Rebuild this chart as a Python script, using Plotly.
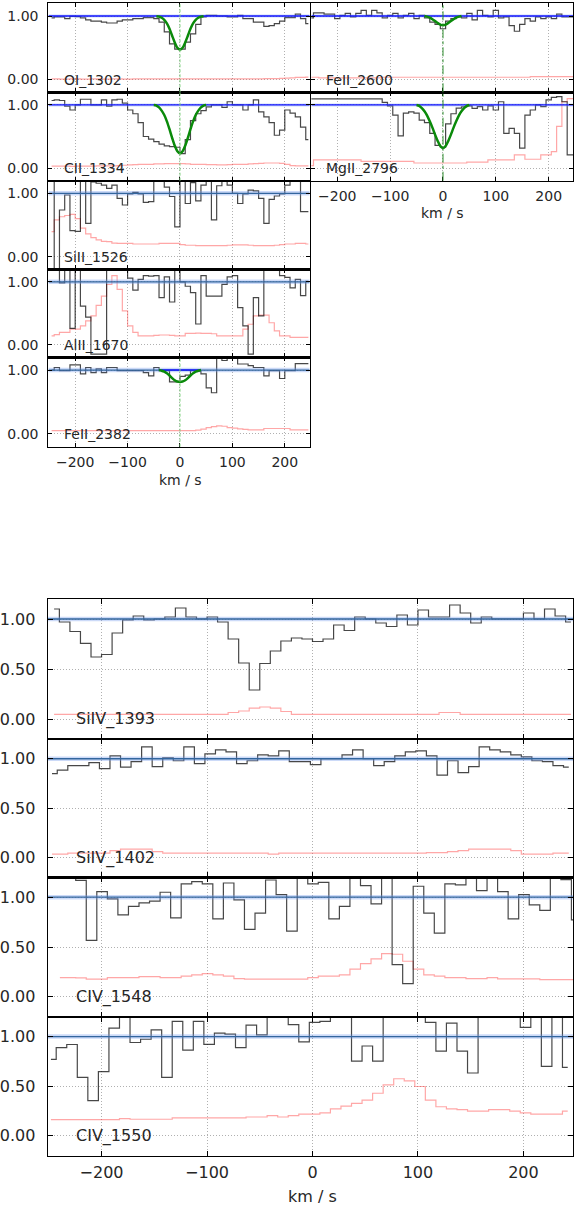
import numpy as np
import plotly.graph_objects as go

W, H = 574, 1209
BIN_KMS = 10.0

# ------------------------------------------------------------------ data
# first bin centre (km/s) of each spectrum; bins are BIN_KMS wide
V0_OI_1302 = -245.0
V0_CII_1334 = -245.0
V0_SiII_1526 = -245.0
V0_AlII_1670 = -245.0
V0_FeII_2382 = -245.0
V0_FeII_2600 = -250.0
V0_MgII_2796 = -250.0
V0_SiIV_1393 = -245.0
V0_SiIV_1402 = -247.0
V0_CIV_1548 = -239.5
V0_CIV_1550 = -248.0

OI_1302_FLUX = [0.97, 0.985, 0.985, 0.96, 0.995, 0.99, 0.97, 0.94, 0.92, 0.92,
                0.905, 0.89, 0.89, 0.92, 0.94, 0.94, 0.96, 0.96, 0.975, 0.975,
                0.96, 0.905, 0.75, 0.563, 0.48, 0.48, 0.59, 0.72, 0.87, 0.985,
                1.01, 1.01, 1.0, 1.0, 0.985, 0.985, 1.01, 0.96, 0.96, 0.905,
                0.905, 0.837, 0.85, 0.88, 0.92, 0.975, 0.975, 1.03, 0.96, 0.88]
OI_1302_ERR = [0.010, 0.010, 0.008, 0.008, 0.010, 0.010, 0.008, 0.008, 0.010, 0.010,
               0.008, 0.008, 0.010, 0.010, 0.008, 0.008, 0.010, 0.010, 0.010, 0.010,
               0.012, 0.012, 0.012, 0.012, 0.012, 0.012, 0.012, 0.012, 0.010, 0.010,
               0.010, 0.010, 0.010, 0.010, 0.010, 0.012, 0.012, 0.012, 0.012, 0.012,
               0.012, 0.015, 0.015, 0.015, 0.018, 0.022, 0.028, 0.035, 0.035, 0.040]
OI_1302_MODEL_V = [-45, -40, -35, -30, -25, -20, -15, -10, -5, 0, 5, 10, 15, 20, 25, 30, 35, 40, 45]
OI_1302_MODEL = [0.996, 0.99, 0.973, 0.94, 0.885, 0.80, 0.69, 0.585, 0.50, 0.47,
                 0.50, 0.585, 0.69, 0.80, 0.885, 0.94, 0.973, 0.99, 0.996]

CII_1334_FLUX = [1.07, 1.08, 1.07, 0.98, 0.92, 1.0, 1.09, 1.09, 1.0, 1.0,
                 1.08, 0.98, 1.08, 1.09, 1.03, 0.92, 0.86, 0.72, 0.50, 0.46,
                 0.42, 0.38, 0.35, 0.34, 0.33, 0.23, 0.45, 0.75, 0.86, 0.91,
                 0.97, 1.0, 1.0, 0.96, 1.05, 1.0, 1.0, 0.92, 1.0, 1.08,
                 0.89, 0.81, 0.72, 0.52, 0.60, 0.92, 0.87, 0.81, 0.65, 0.45]
CII_1334_ERR = [0.03, 0.03, 0.032, 0.03, 0.028, 0.03, 0.03, 0.03, 0.032, 0.035,
                0.035, 0.035, 0.035, 0.04, 0.045, 0.05, 0.055, 0.06, 0.06, 0.06,
                0.065, 0.065, 0.07, 0.07, 0.07, 0.07, 0.065, 0.06, 0.06, 0.06,
                0.055, 0.055, 0.05, 0.05, 0.055, 0.06, 0.06, 0.06, 0.065, 0.07,
                0.075, 0.08, 0.08, 0.08, 0.075, 0.06, 0.04, 0.035, 0.035, 0.035]
CII_1334_MODEL_V = [-50, -45, -40, -35, -30, -25, -20, -15, -10, -5, 0,
                    5, 10, 15, 20, 25, 30, 35, 40, 45, 50]
CII_1334_MODEL = [1.0, 0.99, 0.96, 0.91, 0.84, 0.74, 0.615, 0.48, 0.355, 0.265, 0.23,
                  0.265, 0.355, 0.48, 0.615, 0.74, 0.84, 0.91, 0.96, 0.99, 1.0]

SiII_1526_FLUX = [1.3, -0.3, 0.737, 0.974, 0.41, 0.40, 1.3, 0.526, 1.18, 1.16,
                  1.13, 1.08, 1.13, 0.92, 0.816, 0.99, 1.016, 0.99, 0.858, 0.868,
                  1.3, 1.3, 1.1, 0.95, 0.47, 1.3, 0.84, 1.17, 0.88, 1.13,
                  1.3, 0.58, 1.12, 1.3, 1.13, 1.0, 0.84, 0.99, 1.05, 1.04,
                  0.92, 0.526, 0.905, 0.958, 0.99, 1.13, 1.3, 1.3, 0.71, 0.71]
SiII_1526_ERR = [0.395, 0.58, 0.63, 0.65, 0.668, 0.60, 0.45, 0.36, 0.30, 0.265,
                 0.24, 0.237, 0.215, 0.21, 0.21, 0.21, 0.2, 0.2, 0.2, 0.2,
                 0.2, 0.21, 0.21, 0.21, 0.21, 0.19, 0.18, 0.18, 0.175, 0.175,
                 0.175, 0.175, 0.175, 0.175, 0.18, 0.185, 0.185, 0.185, 0.18, 0.175,
                 0.175, 0.175, 0.175, 0.18, 0.19, 0.2, 0.2, 0.21, 0.21, 0.2]

AlII_1670_FLUX = [1.3, 1.3, 0.985, 1.3, 0.26, 1.3, 0.615, 0.44, -0.15, -0.15,
                  -0.15, 1.3, 1.3, 1.3, 1.3, 1.06, 0.87, 1.04, 1.1, 1.09,
                  1.1, 0.75, 1.08, 0.68, 1.3, 1.0, 0.93, 0.83, 0.33, 1.1,
                  0.774, 0.774, 0.774, 0.96, 1.08, 1.1, 0.59, 0.3, -0.15, 0.75,
                  0.46, 1.3, 1.3, 1.3, 1.1, 1.07, 0.905, 1.04, 0.78, 1.01]
AlII_1670_ERR = [0.14, 0.16, 0.195, 0.195, 0.247, 0.247, 0.30, 0.38, 0.458, 0.626,
                 0.774, 0.958, 1.10, 0.88, 0.537, 0.30, 0.195, 0.142, 0.142, 0.142,
                 0.15, 0.155, 0.155, 0.15, 0.142, 0.142, 0.18, 0.18, 0.185, 0.18,
                 0.18, 0.175, 0.142, 0.142, 0.142, 0.142, 0.142, 0.247, 0.326, 0.458,
                 0.47, 0.47, 0.35, 0.22, 0.142, 0.142, 0.116, 0.116, 0.116, 0.116]

FeII_2382_FLUX = [1.0, 1.04, 0.99, 0.99, 1.08, 1.08, 0.94, 1.04, 0.96, 1.02,
                  0.96, 1.04, 1.04, 0.99, 0.99, 0.99, 0.99, 0.99, 0.96, 0.91,
                  1.04, 0.99, 0.99, 0.815, 0.815, 0.9, 0.92, 0.99, 0.98, 0.94,
                  0.72, 0.645, 1.2, 1.15, 1.2, 1.25, 1.095, 1.095, 1.07, 1.04,
                  1.04, 0.91, 0.99, 0.99, 0.868, 0.99, 0.99, 1.1, 1.1, 1.1]
FeII_2382_ERR = [0.053, 0.053, 0.053, 0.053, 0.053, 0.053, 0.053, 0.053, 0.053, 0.053,
                 0.053, 0.053, 0.053, 0.053, 0.053, 0.053, 0.053, 0.053, 0.053, 0.053,
                 0.053, 0.053, 0.053, 0.053, 0.053, 0.053, 0.053, 0.053, 0.06, 0.075,
                 0.10, 0.115, 0.127, 0.12, 0.10, 0.09, 0.08, 0.07, 0.063, 0.063,
                 0.063, 0.085, 0.085, 0.085, 0.085, 0.085, 0.063, 0.063, 0.063, 0.063]
FeII_2382_MODEL_V = [-40, -35, -30, -25, -20, -15, -10, -5, 0, 5, 10, 15, 20, 25, 30, 35, 40]
FeII_2382_MODEL = [1.0, 0.99, 0.975, 0.95, 0.915, 0.875, 0.84, 0.82, 0.815,
                   0.82, 0.84, 0.875, 0.915, 0.95, 0.975, 0.99, 1.0]

FeII_2600_FLUX = [0.97, 1.05, 1.05, 1.03, 1.03, 0.96, 1.01, 1.04, 0.985, 1.04,
                  1.09, 1.01, 1.09, 1.05, 0.97, 1.01, 1.04, 0.97, 1.01, 1.04,
                  0.96, 1.01, 0.97, 0.905, 0.87, 0.80, 0.92, 0.96, 0.985, 0.97,
                  1.04, 0.94, 1.09, 1.01, 0.985, 1.09, 0.97, 0.985, 0.85, 0.76,
                  0.87, 0.96, 0.92, 0.985, 0.96, 0.985, 0.96, 1.03, 0.985, 0.985,
                  0.985]
FeII_2600_ERR = [0.037, 0.037, 0.026, 0.026, 0.026, 0.026, 0.026, 0.026, 0.026, 0.026,
                 0.026, 0.026, 0.026, 0.026, 0.037, 0.037, 0.037, 0.037, 0.037, 0.037,
                 0.037, 0.037, 0.037, 0.037, 0.037, 0.037, 0.037, 0.037, 0.037, 0.037,
                 0.037, 0.037, 0.037, 0.037, 0.037, 0.037, 0.037, 0.037, 0.037, 0.037,
                 0.037, 0.037, 0.047, 0.047, 0.047, 0.047, 0.047, 0.047, 0.047, 0.047,
                 0.047]
FeII_2600_MODEL_V = [-35, -30, -25, -20, -15, -10, -5, 0, 5, 10, 15, 20, 25, 30, 35]
FeII_2600_MODEL = [1.0, 0.99, 0.975, 0.95, 0.92, 0.89, 0.865, 0.855,
                   0.865, 0.89, 0.92, 0.95, 0.975, 0.99, 1.0]

MgII_2796_FLUX = [1.095, 1.095, 1.095, 1.095, 1.095, 1.095, 1.095, 1.095, 1.095, 1.095,
                  1.095, 1.095, 1.095, 1.095, 1.04, 0.985, 0.84, 0.51, 0.87, 0.89,
                  0.87, 0.76, 0.72, 0.55, 0.36, 0.33, 0.70, 0.86, 0.95, 0.97,
                  0.985, 0.947, 0.974, 0.92, 0.985, 0.92, 1.05, 0.55, 0.63, 0.55,
                  0.316, 0.84, 0.92, 1.0, 0.974, 1.08, 1.12, 1.13, 1.05, 0.21,
                  0.21]
MgII_2796_ERR = [0.04, 0.13, 0.13, 0.13, 0.13, 0.13, 0.13, 0.13, 0.13, 0.13,
                 0.105, 0.105, 0.105, 0.105, 0.105, 0.105, 0.105, 0.105, 0.105, 0.105,
                 0.08, 0.08, 0.08, 0.08, 0.08, 0.08, 0.08, 0.08, 0.08, 0.08,
                 0.095, 0.095, 0.095, 0.095, 0.13, 0.13, 0.13, 0.13, 0.13, 0.21,
                 0.21, 0.14, 0.14, 0.14, 0.21, 0.21, 0.26, 0.66, 1.05, 1.1,
                 1.1]
MgII_2796_MODEL_V = [-50, -45, -40, -35, -30, -25, -20, -15, -10, -5, 0,
                     5, 10, 15, 20, 25, 30, 35, 40, 45, 50]
MgII_2796_MODEL = [1.0, 0.985, 0.95, 0.90, 0.83, 0.74, 0.64, 0.53, 0.43, 0.35, 0.316,
                   0.35, 0.43, 0.53, 0.64, 0.74, 0.83, 0.90, 0.95, 0.985, 1.0]

SiIV_1393_FLUX = [1.10, 0.97, 0.875, 0.757, 0.62, 0.645, 0.86, 0.99, 1.03, 0.99,
                  1.00, 1.02, 1.11, 1.02, 1.00, 1.02, 0.97, 0.80, 0.56, 0.29,
                  0.555, 0.68, 0.78, 0.81, 0.80, 0.775, 0.80, 0.94, 0.885, 1.02,
                  1.00, 0.96, 0.925, 1.04, 0.94, 1.09, 1.02, 1.02, 1.14, 1.06,
                  0.96, 1.02, 1.00, 1.00, 1.00, 1.06, 1.00, 1.10, 1.03, 0.97]
SiIV_1393_ERR = [0.047, 0.047, 0.047, 0.047, 0.047, 0.047, 0.047, 0.047, 0.047, 0.047,
                 0.047, 0.047, 0.047, 0.047, 0.047, 0.047, 0.047, 0.065, 0.08, 0.108,
                 0.12, 0.108, 0.075, 0.047, 0.047, 0.047, 0.047, 0.047, 0.047, 0.047,
                 0.047, 0.047, 0.047, 0.047, 0.047, 0.047, 0.047, 0.065, 0.065, 0.047,
                 0.047, 0.047, 0.047, 0.047, 0.047, 0.047, 0.047, 0.047, 0.047, 0.047]

SiIV_1402_FLUX = [0.85, 0.885, 0.93, 0.93, 0.96, 0.90, 1.03, 0.915, 0.97, 1.12,
                  0.92, 1.01, 0.98, 1.12, 0.95, 1.05, 1.09, 1.07, 0.95, 0.98,
                  1.04, 1.03, 1.08, 0.97, 0.97, 0.94, 1.00, 1.00, 1.04, 1.09,
                  1.00, 0.93, 0.97, 1.03, 1.07, 1.08, 1.03, 0.835, 0.98, 0.86,
                  0.92, 1.12, 1.09, 1.07, 1.04, 1.02, 0.98, 0.97, 0.93, 0.915]
SiIV_1402_ERR = [0.035, 0.035, 0.045, 0.045, 0.045, 0.045, 0.07, 0.085, 0.085, 0.085,
                 0.06, 0.045, 0.045, 0.045, 0.045, 0.045, 0.045, 0.045, 0.045, 0.045,
                 0.045, 0.035, 0.045, 0.045, 0.045, 0.045, 0.045, 0.045, 0.045, 0.045,
                 0.045, 0.045, 0.045, 0.045, 0.045, 0.045, 0.05, 0.05, 0.06, 0.07,
                 0.085, 0.085, 0.085, 0.085, 0.07, 0.035, 0.035, 0.035, 0.045, 0.045]

CIV_1548_FLUX = [1.3, 1.3, 1.17, 0.567, 1.057, 0.983, 0.823, 0.907, 0.943, 0.96,
                 1.05, 0.793, 1.133, 1.157, 1.133, 0.783, 1.143, 0.973, 0.677, 0.84,
                 1.173, 1.027, 0.66, 1.3, 1.133, 1.15, 0.783, 0.907, 1.3, 1.117,
                 0.933, 1.3, 0.323, 0.133, 1.11, 0.84, 0.64, 1.133, 1.123, 1.3,
                 1.067, 1.3, 1.057, 0.783, 1.027, 0.923, 0.867, 1.3, 1.177, 0.773]
CIV_1548_ERR = [0.193, 0.193, 0.19, 0.177, 0.177, 0.193, 0.193, 0.193, 0.203, 0.203,
                0.193, 0.193, 0.207, 0.22, 0.233, 0.22, 0.207, 0.183, 0.177, 0.177,
                0.177, 0.177, 0.177, 0.177, 0.193, 0.207, 0.207, 0.22, 0.277, 0.333,
                0.38, 0.433, 0.427, 0.357, 0.277, 0.22, 0.207, 0.193, 0.193, 0.183,
                0.183, 0.193, 0.18, 0.18, 0.18, 0.18, 0.173, 0.173, 0.173, 0.173]

CIV_1550_FLUX = [0.77, 0.888, 0.92, 0.588, 0.354, 0.646, 1.085, 1.3, 0.94, 0.973,
                 1.068, 0.588, 1.153, 0.864, 1.153, 0.922, 1.034, 1.024, 0.888, 1.116,
                 1.017, 1.3, 1.3, 1.12, 0.946, 1.143, 1.153, 1.3, 1.3, 0.752,
                 0.905, 0.752, 1.3, 1.3, 1.3, 1.3, 1.143, 0.854, 1.136, 0.854,
                 0.633, 1.3, 1.198, 1.198, 1.3, 1.092, 1.3, 0.70, 1.3, 0.69]
CIV_1550_ERR = [0.163, 0.163, 0.163, 0.163, 0.163, 0.163, 0.163, 0.173, 0.167, 0.167,
                0.167, 0.167, 0.18, 0.18, 0.18, 0.18, 0.18, 0.18, 0.18, 0.19,
                0.19, 0.204, 0.19, 0.204, 0.218, 0.218, 0.231, 0.272, 0.30, 0.327,
                0.36, 0.429, 0.514, 0.575, 0.554, 0.497, 0.36, 0.293, 0.272, 0.265,
                0.248, 0.248, 0.265, 0.265, 0.248, 0.231, 0.218, 0.218, 0.218, 0.248]

X_TICKS = [-200, -100, 0, 100, 200]
X_TICK_TEXT = ["\u2212200", "\u2212100", "0", "100", "200"]
Y_TICKS_SMALL = [0.0, 1.0]
Y_TICK_TEXT_SMALL = ["0.00", "1.00"]
Y_TICKS_BIG = [0.0, 0.5, 1.0]
Y_TICK_TEXT_BIG = ["0.00", "0.50", "1.00"]
X_LABEL = "km / s"

# ------------------------------------------------------------------ layout (pixels)
COLS = {
    "L": dict(x0=46.7, x1=309.3, rng=[-251.0, 247.5], font=14),
    "R": dict(x0=311.0, x1=574.0, rng=[-249.0, 246.0], font=14),
    "B": dict(x0=46.0, x1=574.0, rng=[-251.0, 247.0], font=16),
}

PANELS = [
    dict(name="OI_1302", v0=V0_OI_1302, flux=OI_1302_FLUX, err=OI_1302_ERR,
         mv=OI_1302_MODEL_V, mf=OI_1302_MODEL, col="L", top=3.3, bot=92.3,
         xlab=False, cont="bright"),
    dict(name="CII_1334", v0=V0_CII_1334, flux=CII_1334_FLUX, err=CII_1334_ERR,
         mv=CII_1334_MODEL_V, mf=CII_1334_MODEL, col="L", top=92.3, bot=180.7,
         xlab=False, cont="bright"),
    dict(name="SiII_1526", v0=V0_SiII_1526, flux=SiII_1526_FLUX, err=SiII_1526_ERR,
         mv=None, mf=None, col="L", top=180.7, bot=269.3, xlab=False, cont="steel"),
    dict(name="AlII_1670", v0=V0_AlII_1670, flux=AlII_1670_FLUX, err=AlII_1670_ERR,
         mv=None, mf=None, col="L", top=269.3, bot=357.3, xlab=False, cont="steel"),
    dict(name="FeII_2382", v0=V0_FeII_2382, flux=FeII_2382_FLUX, err=FeII_2382_ERR,
         mv=FeII_2382_MODEL_V, mf=FeII_2382_MODEL, col="L", top=357.3, bot=446.7,
         xlab=True, cont="steel"),
    dict(name="FeII_2600", v0=V0_FeII_2600, flux=FeII_2600_FLUX, err=FeII_2600_ERR,
         mv=FeII_2600_MODEL_V, mf=FeII_2600_MODEL, col="R", top=3.3, bot=92.3,
         xlab=False, cont="bright"),
    dict(name="MgII_2796", v0=V0_MgII_2796, flux=MgII_2796_FLUX, err=MgII_2796_ERR,
         mv=MgII_2796_MODEL_V, mf=MgII_2796_MODEL, col="R", top=92.3, bot=180.7,
         xlab=True, cont="bright"),
    dict(name="SiIV_1393", v0=V0_SiIV_1393, flux=SiIV_1393_FLUX, err=SiIV_1393_ERR,
         mv=None, mf=None, col="B", top=599.0, bot=739.0, xlab=False, cont="steel"),
    dict(name="SiIV_1402", v0=V0_SiIV_1402, flux=SiIV_1402_FLUX, err=SiIV_1402_ERR,
         mv=None, mf=None, col="B", top=739.0, bot=877.3, xlab=False, cont="steel"),
    dict(name="CIV_1548", v0=V0_CIV_1548, flux=CIV_1548_FLUX, err=CIV_1548_ERR,
         mv=None, mf=None, col="B", top=877.3, bot=1016.7, xlab=False, cont="steel"),
    dict(name="CIV_1550", v0=V0_CIV_1550, flux=CIV_1550_FLUX, err=CIV_1550_ERR,
         mv=None, mf=None, col="B", top=1016.7, bot=1155.7, xlab=True, cont="steel"),
]

Y_RANGE = [-0.2, 1.2]
FONT = "DejaVu Sans, Liberation Sans, Arial, sans-serif"
TXT = "#262626"
FLUX_COLOR = "rgba(0,0,0,0.72)"
ERR_COLOR = "rgba(255,60,60,0.45)"
MODEL_COLOR = "#0a8a0a"
BRIGHT_BLUE = "#1414ff"
STEEL_BLUE = "#33669e"
HALO = "rgba(110,150,235,0.35)"
GRID = dict(showgrid=True, gridcolor="#b0b0b0", griddash="1px,2px", gridwidth=1)


def centres(v0, n):
    return v0 + BIN_KMS * np.arange(n)


fig = go.Figure()
layout = dict(
    width=W, height=H, margin=dict(l=0, r=0, t=0, b=0),
    paper_bgcolor="white", plot_bgcolor="white", showlegend=False,
    font=dict(family=FONT, color=TXT), hovermode=False,
)
annotations = []
shapes = []

for i, p in enumerate(PANELS, start=1):
    c = COLS[p["col"]]
    xa = "x" if i == 1 else f"x{i}"
    ya = "y" if i == 1 else f"y{i}"
    xk = "xaxis" if i == 1 else f"xaxis{i}"
    yk = "yaxis" if i == 1 else f"yaxis{i}"
    big = p["col"] == "B"
    fs = c["font"]

    layout[xk] = dict(
        domain=[c["x0"] / W, c["x1"] / W], range=c["rng"], anchor=ya,
        tickmode="array", tickvals=X_TICKS, ticktext=X_TICK_TEXT,
        showticklabels=p["xlab"], ticks="inside", ticklen=5 if big else 4,
        tickwidth=1, tickcolor="black", mirror="ticks", showline=True,
        linecolor="black", linewidth=1.2, zeroline=False,
        tickfont=dict(size=fs, family=FONT, color=TXT), ticklabelstandoff=2,
        **GRID,
    )
    layout[yk] = dict(
        domain=[1 - p["bot"] / H, 1 - p["top"] / H], range=Y_RANGE, anchor=xa,
        tickmode="array",
        tickvals=Y_TICKS_BIG if big else Y_TICKS_SMALL,
        ticktext=Y_TICK_TEXT_BIG if big else Y_TICK_TEXT_SMALL,
        showticklabels=p["col"] != "R", ticks="inside", ticklen=5 if big else 4,
        tickwidth=1, tickcolor="black", mirror="ticks", showline=True,
        linecolor="black", linewidth=1.2, zeroline=False,
        tickfont=dict(size=fs, family=FONT, color=TXT),
        ticklabelstandoff=8 if big else 6,
        **GRID,
    )

    ve = centres(p["v0"], len(p["err"]))
    vf = centres(p["v0"], len(p["flux"]))
    # error spectrum
    fig.add_trace(go.Scatter(x=ve, y=p["err"], mode="lines", xaxis=xa, yaxis=ya,
                             line=dict(color=ERR_COLOR, width=1.2, shape="hvh"),
                             hoverinfo="skip"))
    # flux spectrum
    fig.add_trace(go.Scatter(x=vf, y=p["flux"], mode="lines", xaxis=xa, yaxis=ya,
                             line=dict(color=FLUX_COLOR, width=1.2, shape="hvh"),
                             hoverinfo="skip"))
    # continuum
    xr = c["rng"]
    bright = p["cont"] == "bright"
    fig.add_trace(go.Scatter(x=xr, y=[1.0, 1.0], mode="lines", xaxis=xa, yaxis=ya,
                             line=dict(color=HALO, width=3 if bright else 4.5),
                             hoverinfo="skip"))
    fig.add_trace(go.Scatter(x=xr, y=[1.0, 1.0], mode="lines", xaxis=xa, yaxis=ya,
                             line=dict(color=BRIGHT_BLUE if bright else STEEL_BLUE,
                                       width=1.3), hoverinfo="skip"))
    if p["mv"] is not None:
        if not bright:
            fig.add_trace(go.Scatter(x=[p["mv"][0], p["mv"][-1]], y=[1.0, 1.0], mode="lines",
                                     xaxis=xa, yaxis=ya,
                                     line=dict(color=BRIGHT_BLUE, width=1.5), hoverinfo="skip"))
        fig.add_trace(go.Scatter(x=p["mv"], y=p["mf"], mode="lines", xaxis=xa, yaxis=ya,
                                 line=dict(color=MODEL_COLOR, width=2.5, shape="spline",
                                           smoothing=0.8), hoverinfo="skip"))
        # systemic velocity marker
        shapes.append(dict(type="line", xref=xa, yref=f"{ya} domain", x0=0, x1=0, y0=0, y1=1,
                           line=dict(color="#2a8a2a" if p["col"] == "R" else "#7fd07f",
                                     width=1, dash="dashdot" if p["col"] == "R" else "3px,2px"),
                           layer="above"))

    annotations.append(dict(text=p["name"], xref=xa, yref=ya, x=-226, y=0.0,
                            xanchor="left", yanchor="middle", showarrow=False,
                            font=dict(size=fs, family=FONT, color=TXT)))

# axis titles
for (xpx, ypx, fs) in [(179.0, 480.0, 14), (443.3, 213.0, 14), (312.0, 1196.5, 16)]:
    annotations.append(dict(text=X_LABEL, xref="paper", yref="paper", x=xpx / W, y=1 - ypx / H,
                            xanchor="center", yanchor="middle", showarrow=False,
                            font=dict(size=fs, family=FONT, color=TXT)))

layout["annotations"] = annotations
layout["shapes"] = shapes
fig.update_layout(**layout)
fig.write_html(
    "out.html",
    config={"displayModeBar": False, "staticPlot": True},
    post_script=("document.documentElement.style.margin='0';"
                 "document.body.style.margin='0';document.body.style.padding='0';"
                 "document.body.style.overflow='hidden';"),
)
